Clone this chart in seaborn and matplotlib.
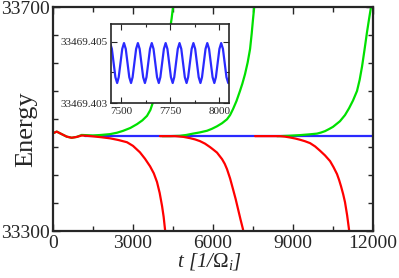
import matplotlib
matplotlib.use("Agg")
import matplotlib.pyplot as plt
import seaborn as sns
from matplotlib.ticker import FixedLocator, MultipleLocator, FormatStrFormatter

# values
blue_t = [1200, 12000]
blue_e = [33469.404, 33469.404]

red1_t = [0, 140, 325, 515, 700, 890, 1075, 1265, 1500, 1800, 2140, 2450, 2775, 3000, 3260, 3450,
          3640, 3780, 3900, 4000, 4090, 4150, 4200, 4230]
red1_e = [33474.5, 33477.5, 33473, 33468.5, 33466.5, 33468, 33470.5, 33470, 33469, 33467.5, 33465.5,
          33462.5, 33458.5, 33452, 33440.5, 33429, 33415.5, 33403, 33387.5, 33368, 33344.5, 33325,
          33303, 33290]

green1_t = [0, 140, 325, 515, 700, 890, 1075, 1500, 1800, 2140, 2400, 2625, 2900, 3150, 3350, 3525,
            3650, 3750, 3880, 4010, 4150, 4275, 4390, 4450, 4500, 4540]
green1_e = [33474.5, 33477.5, 33473, 33468.5, 33466.5, 33468, 33471.5, 33470.6, 33471.5, 33473,
            33475.5, 33478.8, 33484, 33490.8, 33497.5, 33505.6, 33516, 33530, 33546, 33566, 33591,
            33619.4, 33660.5, 33680, 33700, 33714]

red2_t = [4010, 4575, 4900, 5140, 5330, 5510, 5700, 5890, 6020, 6150, 6340, 6440, 6525, 6640, 6750,
          6850, 6940, 7030, 7125, 7160]
red2_e = [33469.4, 33469.4, 33468, 33465.8, 33463.5, 33460.5, 33456, 33449.8, 33445, 33440, 33428.3,
          33420, 33410.5, 33394, 33374.8, 33357, 33339, 33321, 33303, 33290]

green2_t = [4100, 4390, 4760, 5000, 5250, 5500, 5775, 5960, 6150, 6340, 6525, 6640, 6750, 6880, 7010,
            7100, 7200, 7300, 7390, 7450, 7500, 7575]
green2_e = [33469.4, 33469.4, 33470, 33471.5, 33473.9, 33476, 33479, 33482.5, 33487, 33492.5, 33499.5,
            33507, 33517.6, 33532, 33549.8, 33563, 33580, 33601, 33625, 33652, 33678, 33714]

red3_t = [7575, 8510, 8700, 8890, 9080, 9260, 9450, 9640, 9830, 10010, 10200, 10390, 10520, 10650,
          10730, 10800, 10880, 10950, 11030, 11100, 11140]
red3_e = [33469.4, 33469.4, 33468.5, 33467, 33465.2, 33463, 33460.3, 33456.9, 33451, 33443.5, 33435,
          33424.8, 33414, 33401.7, 33391, 33380, 33366, 33351.5, 33328, 33303, 33285]

green3_t = [8400, 8510, 8900, 9260, 9600, 9900, 10050, 10200, 10350, 10500, 10760, 10950, 11100,
            11250, 11400, 11500, 11590, 11680, 11775, 11850, 11925, 12000]
green3_e = [33469.4, 33469.4, 33470.2, 33471.2, 33472.5, 33473.9, 33475.8, 33478.3, 33482, 33486,
            33496, 33507, 33519, 33533, 33550, 33570, 33594, 33623, 33655, 33678, 33700, 33723]

# inset: fine oscillation of the blue run
inset_t = [7442, 7451, 7460, 7469, 7478, 7486, 7495, 7504,
           7513, 7522, 7531, 7540, 7549, 7557, 7566, 7575,
           7584, 7593, 7602, 7611, 7620, 7628, 7637, 7646,
           7655, 7664, 7673, 7682, 7691, 7699, 7708, 7717,
           7726, 7735, 7744, 7753, 7762, 7770, 7779, 7788,
           7797, 7806, 7815, 7824, 7833, 7841, 7850, 7859,
           7868, 7877, 7886, 7895, 7904, 7912, 7921, 7930,
           7939, 7948, 7957, 7966, 7975, 7983, 7992, 8001,
           8010, 8019, 8028, 8037, 8046, 8054]
inset_e = [33469.40495, 33469.40476, 33469.40430, 33469.40384, 33469.40365, 33469.40384, 33469.40430, 33469.40476,
           33469.40495, 33469.40476, 33469.40430, 33469.40384, 33469.40365, 33469.40384, 33469.40430, 33469.40476,
           33469.40495, 33469.40476, 33469.40430, 33469.40384, 33469.40365, 33469.40384, 33469.40430, 33469.40476,
           33469.40495, 33469.40476, 33469.40430, 33469.40384, 33469.40365, 33469.40384, 33469.40430, 33469.40476,
           33469.40495, 33469.40476, 33469.40430, 33469.40384, 33469.40365, 33469.40384, 33469.40430, 33469.40476,
           33469.40495, 33469.40476, 33469.40430, 33469.40384, 33469.40365, 33469.40384, 33469.40430, 33469.40476,
           33469.40495, 33469.40476, 33469.40430, 33469.40384, 33469.40365, 33469.40384, 33469.40430, 33469.40476,
           33469.40495, 33469.40476, 33469.40430, 33469.40384, 33469.40365, 33469.40384, 33469.40430, 33469.40476,
           33469.40495, 33469.40476, 33469.40430, 33469.40384, 33469.40365, 33469.40384]

RED = "#ff0000"
GREEN = "#00e000"
BLUE = "#2a2aff"

sns.set_style("ticks")
plt.rcParams['font.family'] = ['Liberation Serif', 'DejaVu Serif']
plt.rcParams['mathtext.fontset'] = 'custom'
plt.rcParams['mathtext.rm'] = 'Liberation Serif'
plt.rcParams['mathtext.it'] = 'Liberation Serif:italic'

fig = plt.figure(figsize=(3.99, 2.78), dpi=100)
ax = fig.add_axes([53 / 399, 47 / 278, 320 / 399, 224 / 278])

lw = 1.6
sns.lineplot(x=blue_t, y=blue_e, ax=ax, color=BLUE, lw=lw, estimator=None, sort=False)
for tt, ee in [(green1_t, green1_e), (green2_t, green2_e), (green3_t, green3_e)]:
    sns.lineplot(x=tt, y=ee, ax=ax, color=GREEN, lw=lw, estimator=None, sort=False)
for tt, ee in [(red1_t, red1_e), (red2_t, red2_e), (red3_t, red3_e)]:
    sns.lineplot(x=tt, y=ee, ax=ax, color=RED, lw=lw, estimator=None, sort=False)

ax.set_xlim(0, 12000)
ax.set_ylim(33300, 33700)
ax.xaxis.set_major_locator(MultipleLocator(3000))
ax.xaxis.set_minor_locator(MultipleLocator(1500))
ax.yaxis.set_major_locator(FixedLocator([33300, 33700]))
ax.yaxis.set_minor_locator(MultipleLocator(50))
ax.tick_params(which='both', direction='in', top=True, right=True, width=1.0)
ax.tick_params(which='major', length=5)
ax.tick_params(which='minor', length=3.5)
ax.tick_params(axis='x', labelsize=14, pad=3)
ax.tick_params(axis='y', labelsize=14, pad=2)
for s in ax.spines.values():
    s.set_linewidth(1.6)

ax.set_ylabel("Energy", fontsize=19)
ax.yaxis.set_label_coords(-0.05, 0.455)
ax.set_xlabel(r"$t$ [1/$\Omega_i$]", fontsize=15, style='italic')
ax.xaxis.set_label_coords(0.49, -0.09)

# inset
ins = fig.add_axes([110.7 / 399, 175 / 278, 118.3 / 399, 79 / 278])
sns.lineplot(x=inset_t, y=inset_e, ax=ins, color=BLUE, lw=1.6, estimator=None, sort=False)
ins.set_xlim(7445, 8050)
ins.set_ylim(33469.403, 33469.40557)
ins.xaxis.set_major_locator(FixedLocator([7500, 7750, 8000]))
ins.xaxis.set_minor_locator(FixedLocator([7625, 7875]))
ins.yaxis.set_major_locator(FixedLocator([33469.403, 33469.405]))
ins.yaxis.set_minor_locator(FixedLocator([33469.404]))
ins.yaxis.set_major_formatter(FormatStrFormatter('%.3f'))
ins.tick_params(which='both', direction='in', top=True, right=True, width=0.8, labelsize=8)
ins.tick_params(which='major', length=4)
ins.tick_params(which='minor', length=2.5)
ins.tick_params(axis='x', pad=3)
ins.tick_params(axis='y', pad=2)
for s in ins.spines.values():
    s.set_linewidth(1.2)
ins.set_xlabel("")
ins.set_ylabel("")

fig.savefig("out.png", dpi=100)
